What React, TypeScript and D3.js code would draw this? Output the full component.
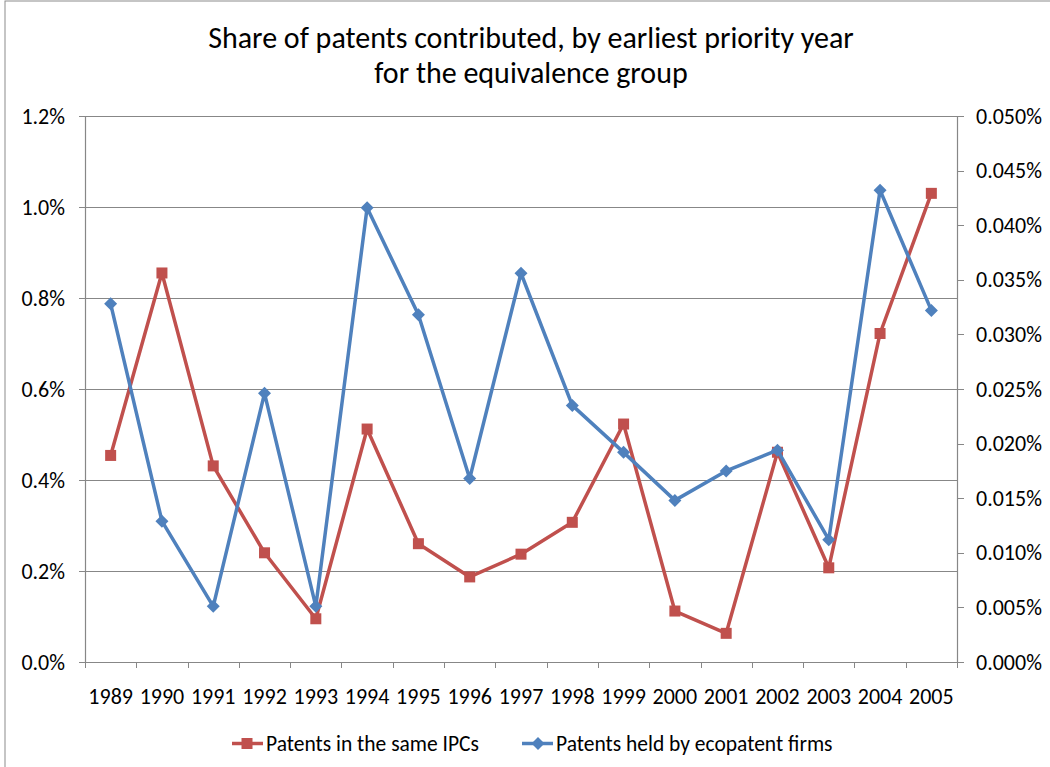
import React from "react";
import * as d3 from "d3";

const years = ["1989","1990","1991","1992","1993","1994","1995","1996","1997","1998","1999","2000","2001","2002","2003","2004","2005"];
// Left axis series (percent)
const ipcShare = [0.454, 0.855, 0.431, 0.240, 0.095, 0.512, 0.260, 0.187, 0.237, 0.307, 0.523, 0.112, 0.063, 0.461, 0.207, 0.722, 1.030];
// Right axis series (percent)
const ecoShare = [0.0328, 0.0129, 0.0051, 0.0246, 0.0051, 0.0416, 0.0318, 0.0168, 0.0356, 0.0235, 0.0192, 0.0148, 0.0175, 0.0194, 0.0112, 0.0432, 0.0322];
const leftTicks = [0, 0.2, 0.4, 0.6, 0.8, 1.0, 1.2];
const rightTicks = [0, 0.005, 0.01, 0.015, 0.02, 0.025, 0.03, 0.035, 0.04, 0.045, 0.05];
const titleLines = ["Share of patents contributed, by earliest priority year", "for the equivalence group"];
const seriesNames = ["Patents in the same IPCs", "Patents held by ecopatent firms"];

const W = 1050, H = 767;
const M = { left: 85, right: 957, top: 116, bottom: 662 };
const RED = "#C0504D", BLUE = "#4F81BD", GRID = "#878787";
const FONT = "Carlito, 'Liberation Sans', Arial, sans-serif";

export default function App() {
  const x = d3.scaleBand<string>().domain(years).range([M.left, M.right]).padding(0);
  const yL = d3.scaleLinear().domain([0, 1.2]).range([M.bottom, M.top]);
  const yR = d3.scaleLinear().domain([0, 0.05]).range([M.bottom, M.top]);
  const cx = (d: string) => (x(d) as number) + x.bandwidth() / 2;

  const redLine = d3.line<number>().x((_, i) => cx(years[i])).y((v) => yL(v))(ipcShare) as string;
  const blueLine = d3.line<number>().x((_, i) => cx(years[i])).y((v) => yR(v))(ecoShare) as string;
  const diamond = (px: number, py: number, r: number) => `M${px},${py - r}L${px + r},${py}L${px},${py + r}L${px - r},${py}Z`;

  const boundaries = years.map((d) => x(d) as number).concat([M.right]);

  return (
    <svg width={W} height={H} style={{ position: "absolute", left: 0, top: 0, display: "block", background: "#fff" }} fontFamily={FONT}>
      <rect x={5} y={1} width={1100} height={900} fill="#fff" stroke="#8c8c8c" strokeWidth={1} />
      {/* title */}
      {titleLines.map((t, i) => (
        <text key={t} x={531} y={48 + i * 35} textAnchor="middle" fontSize={30} fill="#000">{t}</text>
      ))}
      {/* gridlines */}
      {leftTicks.map((t) => (
        <line key={"g" + t} x1={M.left} x2={M.right} y1={Math.round(yL(t)) + 0.5} y2={Math.round(yL(t)) + 0.5} stroke={GRID} strokeWidth={1} />
      ))}
      {/* left axis */}
      <line x1={M.left + 0.5} x2={M.left + 0.5} y1={M.top} y2={M.bottom} stroke={GRID} strokeWidth={1.2} />
      {leftTicks.map((t) => (
        <g key={"l" + t}>
          <line x1={M.left - 6} x2={M.left} y1={Math.round(yL(t)) + 0.5} y2={Math.round(yL(t)) + 0.5} stroke={GRID} />
          <text x={65} y={yL(t) + 7.5} textAnchor="end" fontSize={22} fill="#000">{d3.format(".1f")(t) + "%"}</text>
        </g>
      ))}
      {/* right axis */}
      <line x1={M.right + 0.5} x2={M.right + 0.5} y1={M.top} y2={M.bottom} stroke={GRID} strokeWidth={1.2} />
      {rightTicks.map((t) => (
        <g key={"r" + t}>
          <line x1={M.right} x2={M.right + 7} y1={Math.round(yR(t)) + 0.5} y2={Math.round(yR(t)) + 0.5} stroke={GRID} />
          <text x={976} y={yR(t) + 7.5} textAnchor="start" fontSize={22} fill="#000">{d3.format(".3f")(t) + "%"}</text>
        </g>
      ))}
      {/* x axis */}
      <line x1={M.left} x2={M.right + 1} y1={M.bottom + 0.5} y2={M.bottom + 0.5} stroke={GRID} strokeWidth={1.2} />
      {boundaries.map((b, i) => (
        <line key={"b" + i} x1={Math.round(b) + 0.5} x2={Math.round(b) + 0.5} y1={M.bottom} y2={M.bottom + 6} stroke={GRID} />
      ))}
      {years.map((d) => (
        <text key={"x" + d} x={cx(d)} y={704} textAnchor="middle" fontSize={22} fill="#000">{d}</text>
      ))}
      {/* series */}
      <path d={redLine} fill="none" stroke={RED} strokeWidth={3.5} strokeLinejoin="round" />
      {ipcShare.map((v, i) => (
        <rect key={"rm" + i} x={cx(years[i]) - 5.5} y={yL(v) - 5.5} width={11} height={11} fill={RED} />
      ))}
      <path d={blueLine} fill="none" stroke={BLUE} strokeWidth={3.5} strokeLinejoin="round" />
      {ecoShare.map((v, i) => (
        <path key={"bm" + i} d={diamond(cx(years[i]), yR(v), 6.5)} fill={BLUE} />
      ))}
      {/* legend */}
      <g>
        <line x1={232} x2={263} y1={743.5} y2={743.5} stroke={RED} strokeWidth={3.5} />
        <rect x={241.5} y={738} width={11} height={11} fill={RED} />
        <text x={266} y={751} fontSize={21.5} fill="#000">{seriesNames[0]}</text>
        <line x1={522} x2={553} y1={743.5} y2={743.5} stroke={BLUE} strokeWidth={3.5} />
        <path d={diamond(538, 743.5, 6.5)} fill={BLUE} />
        <text x={556} y={751} fontSize={21.5} fill="#000">{seriesNames[1]}</text>
      </g>
    </svg>
  );
}
